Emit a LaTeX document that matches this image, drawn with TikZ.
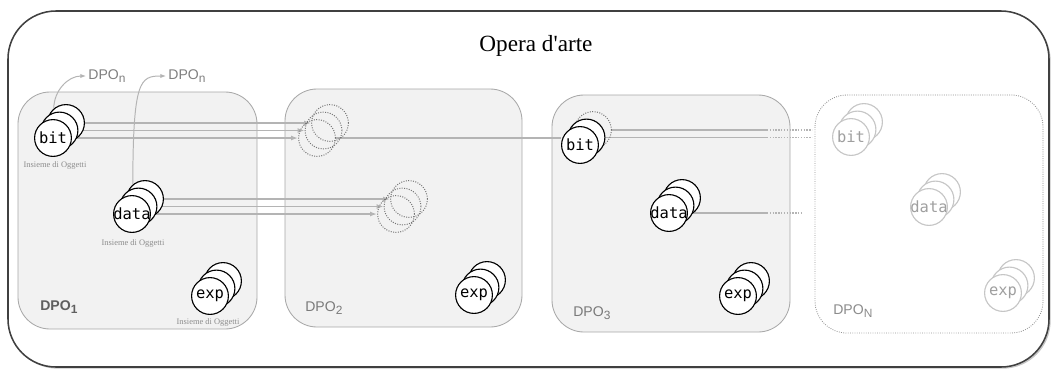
\documentclass[tikz,border=0pt]{standalone}
\usepackage{fontspec}
\setmainfont{Liberation Serif}
\setsansfont{Liberation Sans}
\setmonofont{DejaVu Sans Mono}
\usetikzlibrary{arrows.meta, calc, backgrounds, shadows}
\definecolor{boxgray}{HTML}{F2F2F2}
\definecolor{edgegray}{HTML}{A8A8A8}
\definecolor{flowgray}{HTML}{B4B4B4}
\definecolor{labelgray}{HTML}{7A7A7A}

\tikzset{
  dpobox/.style={draw=edgegray, fill=boxgray, rounded corners=0.8cm, line width=0.6pt},
  dponbox/.style={draw=gray!85, densely dotted, fill=white, rounded corners=0.8cm, line width=0.6pt},
  obj/.style={circle, draw=black, fill=white, line width=0.8pt, minimum size=0.92cm, inner sep=0pt, font=\ttfamily\fontsize{11}{11}\selectfont},
  ghost/.style={circle, draw=gray!90!black, densely dotted, line width=0.7pt, minimum size=0.92cm, inner sep=0pt},
  faded/.style={obj, draw=gray!45, text=gray!75},
  dpolabel/.style={font=\sffamily\fontsize{10}{12}\selectfont, text=labelgray, anchor=west, inner sep=0pt},
  note/.style={font=\fontsize{6}{7}\selectfont, text=gray!90, inner sep=0pt},
  flow/.style={draw=flowgray, line width=1pt},
  flowarrow/.style={flow, -{Latex[length=5pt,width=3.5pt]}},
  fadeflow/.style={draw=flowgray, line width=1pt, densely dotted},
  link/.style={draw=flowgray, line width=0.7pt, -{Latex[length=4pt,width=3pt]}},
}

% three circles stacked: name, front centre, text, front style, back style
\newcommand{\objstack}[5]{%
  \node[#5] (#1c) at ($(#2)+(13,-15)$) {};
  \node[#4] (#1b) at ($(#2)+(6.5,-7.5)$) {};
  \node[#4] (#1a) at (#2) {\makebox[0pt]{#3}};
}
\newcommand{\dpo}[1]{DPO\raisebox{-0.35ex}{\fontsize{8.5}{9}\selectfont #1}}

\begin{document}
\begin{tikzpicture}[x=0.025cm, y=-0.025cm]
\useasboundingbox (0,0) rectangle (1053,371);

\begin{scope}[on background layer]
\draw[draw=black!75, line width=1.1pt, fill=white, rounded corners=1.2cm,
  drop shadow={shadow xshift=1.2pt, shadow yshift=-1.2pt, opacity=0.45}] (8,11) rectangle (1049,367);
\draw[dpobox] (18,92) rectangle (257,329);
\draw[dpobox] (285,89) rectangle (522,327);
\draw[dpobox] (552,95) rectangle (790,332);
\draw[dponbox] (815,95) rectangle (1043,333);
\end{scope}

\node[font=\fontsize{16.5}{20}\selectfont] (title) at (536,46) {Opera d\textquotesingle arte};

% DPO 1
\objstack{bitA}{53,138}{bit}{obj}{obj}
\objstack{dataA}{132,214}{data}{obj}{obj}
\objstack{expA}{210,296}{exp}{obj}{obj}
\node[note] (noteA) at (55,165) {Insieme di Oggetti};
\node[note] (noteB) at (133,243) {Insieme di Oggetti};
\node[note] (noteC) at (208,322) {Insieme di Oggetti};
\node[dpolabel, text=gray!75!black] (labA) at (40,307) {\textbf{\dpo{1}}};
\node[dpolabel, text=gray, inner sep=1.5pt] (topA) at (86,76) {\dpo{n}};
\node[dpolabel, text=gray, inner sep=1.5pt] (topB) at (166,76) {\dpo{n}};

% DPO 2
\objstack{ghostbitB}{317,138}{}{ghost}{ghost}
\objstack{ghostdataB}{396,214}{}{ghost}{ghost}
\objstack{expB}{474,295}{exp}{obj}{obj}
\node[dpolabel] (labB) at (305,308) {\dpo{2}};

% DPO 3
\objstack{bitC}{580,145}{bit}{obj}{ghost}
\objstack{dataC}{669,213}{data}{obj}{obj}
\objstack{expC}{738,296}{exp}{obj}{obj}
\node[dpolabel] (labC) at (573,313) {\dpo{3}};

% DPO N
\objstack{bitN}{851,137}{bit}{faded}{faded}
\objstack{dataN}{929,207}{data}{faded}{faded}
\objstack{expN}{1003,293}{exp}{faded}{faded}
\node[dpolabel, text=gray!90] (labN) at (833,311) {\dpo{N}};

\coordinate (fadeA) at (767,0);
\coordinate (fadeB) at (812,0);
\coordinate (fadeC) at (803,0);

\begin{scope}[on background layer]
\draw[link] (bitAc.130) to[out=90,in=180] (topA.west);
\draw[link] (dataAc.130) .. controls (133,80) and (140,76) .. (topB.west);
\draw[flowarrow] (bitAa) -- (ghostbitBa);
\draw[flowarrow] (bitAb) -- (ghostbitBb);
\draw[flowarrow] (bitAc) -- (ghostbitBc);
\draw[flowarrow] (dataAa) -- (ghostdataBa);
\draw[flowarrow] (dataAb) -- (ghostdataBb);
\draw[flowarrow] (dataAc) -- (ghostdataBc);
\draw[flow] (ghostbitBa.east) -- (ghostbitBa.east -| bitCa.west);
\draw[flow] (bitCb.east) -- (bitCb.east -| fadeA);
\draw[fadeflow] (bitCb.east -| fadeA) -- (bitCb.east -| fadeB);
\draw[flow] (bitCc.east) -- (bitCc.east -| fadeA);
\draw[fadeflow] (bitCc.east -| fadeA) -- (bitCc.east -| fadeB);
\draw[flow] (dataCa.east) -- (dataCa.east -| fadeA);
\draw[fadeflow] (dataCa.east -| fadeA) -- (dataCa.east -| fadeC);
\end{scope}
\end{tikzpicture}
\end{document}
